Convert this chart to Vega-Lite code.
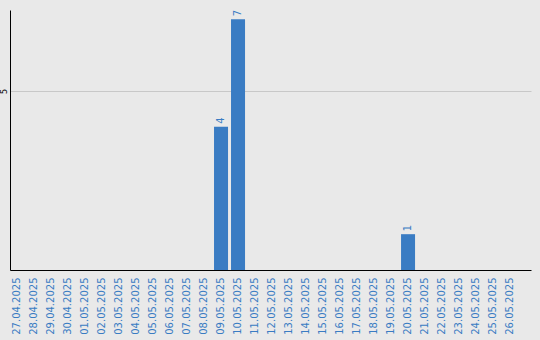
{
  "$schema": "https://vega.github.io/schema/vega-lite/v6.json",
  "width": 521,
  "height": 260,
  "autosize": "none",
  "padding": {"left": 10, "top": 10, "right": 9, "bottom": 70},
  "background": "#e9e9e9",
  "config": {
    "view": {"stroke": null},
    "font": "DejaVu Sans"
  },
  "data": {
    "values": [
      {"date": "27.04.2025", "count": 0},
      {"date": "28.04.2025", "count": 0},
      {"date": "29.04.2025", "count": 0},
      {"date": "30.04.2025", "count": 0},
      {"date": "01.05.2025", "count": 0},
      {"date": "02.05.2025", "count": 0},
      {"date": "03.05.2025", "count": 0},
      {"date": "04.05.2025", "count": 0},
      {"date": "05.05.2025", "count": 0},
      {"date": "06.05.2025", "count": 0},
      {"date": "07.05.2025", "count": 0},
      {"date": "08.05.2025", "count": 0},
      {"date": "09.05.2025", "count": 4},
      {"date": "10.05.2025", "count": 7},
      {"date": "11.05.2025", "count": 0},
      {"date": "12.05.2025", "count": 0},
      {"date": "13.05.2025", "count": 0},
      {"date": "14.05.2025", "count": 0},
      {"date": "15.05.2025", "count": 0},
      {"date": "16.05.2025", "count": 0},
      {"date": "17.05.2025", "count": 0},
      {"date": "18.05.2025", "count": 0},
      {"date": "19.05.2025", "count": 0},
      {"date": "20.05.2025", "count": 1},
      {"date": "21.05.2025", "count": 0},
      {"date": "22.05.2025", "count": 0},
      {"date": "23.05.2025", "count": 0},
      {"date": "24.05.2025", "count": 0},
      {"date": "25.05.2025", "count": 0},
      {"date": "26.05.2025", "count": 0}
    ]
  },
  "encoding": {
    "x": {
      "field": "date",
      "type": "ordinal",
      "sort": null,
      "scale": {"paddingInner": 0.176, "paddingOuter": 0.41, "align": 0},
      "axis": {
        "title": null,
        "labelAngle": -90,
        "labelColor": "#3a7cc3",
        "labelFontSize": 10,
        "labelPadding": 7,
        "ticks": false,
        "domainColor": "#000000",
        "domainWidth": 1
      }
    },
    "y": {
      "field": "count",
      "type": "quantitative",
      "scale": {"domain": [0, 7.26], "nice": false},
      "axis": {
        "title": null,
        "values": [5],
        "ticks": false,
        "labelAngle": -90,
        "labelAlign": "center",
        "labelBaseline": "bottom",
        "labelFontSize": 8,
        "labelColor": "#000000",
        "labelPadding": 2,
        "gridColor": "#c8c8c8",
        "domainColor": "#000000",
        "domainWidth": 1
      }
    }
  },
  "layer": [
    {
      "mark": {"type": "bar", "color": "#3a7cc3"}
    },
    {
      "transform": [{"filter": "datum.count > 0"}],
      "mark": {
        "type": "text",
        "angle": -90,
        "align": "left",
        "baseline": "middle",
        "dx": 3,
        "fontSize": 10,
        "color": "#3a7cc3"
      },
      "encoding": {"text": {"field": "count", "type": "quantitative"}}
    }
  ]
}
